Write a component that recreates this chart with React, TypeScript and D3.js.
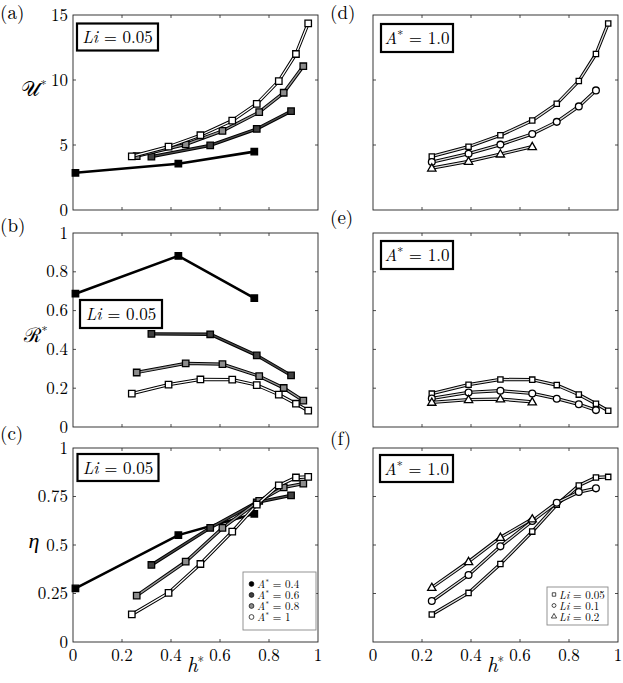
import React from 'react';
import * as d3 from 'd3';

// ---------- data ----------
const hA04 = [0.01, 0.43, 0.74];
const hA06 = [0.32, 0.56, 0.75, 0.89];
const hA08 = [0.26, 0.46, 0.61, 0.76, 0.86, 0.94];
const hA10 = [0.24, 0.39, 0.52, 0.65, 0.75, 0.84, 0.91, 0.96];

const uA04 = [2.86, 3.56, 4.49];
const uA06 = [4.1, 4.97, 6.24, 7.6];
const uA08 = [4.15, 5.05, 6.08, 7.53, 9.02, 11.06];
const uA10 = [4.12, 4.87, 5.75, 6.88, 8.17, 9.92, 12.0, 14.35];

const rA04 = [0.687, 0.882, 0.664];
const rA06 = [0.48, 0.478, 0.369, 0.266];
const rA08 = [0.281, 0.328, 0.324, 0.262, 0.201, 0.136];
const rA10 = [0.172, 0.218, 0.245, 0.244, 0.216, 0.167, 0.12, 0.084];

const eA04 = [0.276, 0.551, 0.661];
const eA06 = [0.397, 0.588, 0.72, 0.756];
const eA08 = [0.239, 0.414, 0.588, 0.728, 0.797, 0.816];
const eA10 = [0.142, 0.253, 0.402, 0.569, 0.708, 0.807, 0.848, 0.851];

const hLi005 = hA10;
const hLi01 = [0.24, 0.39, 0.52, 0.65, 0.75, 0.84, 0.91];
const hLi02 = [0.24, 0.39, 0.52, 0.65];

const uLi005 = uA10;
const uLi01 = [3.69, 4.33, 5.03, 5.85, 6.78, 7.97, 9.2];
const uLi02 = [3.22, 3.74, 4.3, 4.87];

const rLi005 = rA10;
const rLi01 = [0.147, 0.178, 0.187, 0.173, 0.146, 0.117, 0.087];
const rLi02 = [0.127, 0.141, 0.144, 0.129];

const eLi005 = eA10;
const eLi01 = [0.211, 0.345, 0.493, 0.624, 0.718, 0.773, 0.792];
const eLi02 = [0.281, 0.414, 0.539, 0.634];

const xTicks = [0, 0.2, 0.4, 0.6, 0.8, 1];
const uTicks = [0, 5, 10, 15];
const rTicks = [0, 0.2, 0.4, 0.6, 0.8, 1];
const eTicks = [0, 0.25, 0.5, 0.75, 1];

const aLabels = ['0.4', '0.6', '0.8', '1'];
const liLabels = ['0.05', '0.1', '0.2'];

// ---------- styling ----------
const FONT = "'Latin Modern Roman'";
const GREEK = "'Liberation Serif'";
const A_FILL = ['#000000', '#404040', '#8c8c8c', '#ffffff'];
const A_INNER = ['#000000', '#4a4a4a', '#9a9a9a', '#ffffff'];

type Shape = 'square' | 'circle' | 'triangle';
type Series = { h: number[]; v: number[]; fill: string; inner: string; shape: Shape; size: number; solid?: boolean };

const symFor = (s: Shape) => (s === 'square' ? d3.symbolSquare : s === 'circle' ? d3.symbolCircle : d3.symbolTriangle);

const T = (p: any) => <text {...p} style={{ fontFamily: FONT, ...(p.style || {}) }} />;

function Panel(props: {
  x0: number; x1: number; y0: number; y1: number;
  domain: [number, number]; yTicks: number[]; yFmt: (v: number) => string;
  showY: boolean; showX: boolean; series: Series[];
}) {
  const { x0, x1, y0, y1, domain, yTicks, yFmt, showY, showX, series } = props;
  const x = d3.scaleLinear().domain([0, 1]).range([x0, x1]);
  const y = d3.scaleLinear().domain(domain).range([y1, y0]);
  const line = d3.line<[number, number]>().x(d => x(d[0])).y(d => y(d[1]));
  const tl = 3;
  return (
    <g>
      <rect x={x0} y={y0} width={x1 - x0} height={y1 - y0} fill="none" stroke="#222" strokeWidth={0.9} />
      {xTicks.slice(1, -1).map(t => (
        <g key={'xt' + t}>
          <line x1={x(t)} x2={x(t)} y1={y1} y2={y1 - tl} stroke="#222" strokeWidth={0.8} />
          <line x1={x(t)} x2={x(t)} y1={y0} y2={y0 + tl} stroke="#222" strokeWidth={0.8} />
        </g>
      ))}
      {yTicks.slice(1, -1).map(t => (
        <g key={'yt' + t}>
          <line x1={x0} x2={x0 + tl} y1={y(t)} y2={y(t)} stroke="#222" strokeWidth={0.8} />
          <line x1={x1} x2={x1 - tl} y1={y(t)} y2={y(t)} stroke="#222" strokeWidth={0.8} />
        </g>
      ))}
      {showY && yTicks.map(t => (
        <T key={'yl' + t} x={x0 - 5} y={y(t) + 5.5} textAnchor="end" fontSize={17}>{yFmt(t)}</T>
      ))}
      {showX && xTicks.map(t => (
        <T key={'xl' + t} x={x(t)} y={y1 + 19} textAnchor="middle" fontSize={17}>{String(t)}</T>
      ))}
      {series.map((s, i) => {
        const pts = s.h.map((h, j) => [h, s.v[j]] as [number, number]);
        const d = line(pts) || '';
        return (
          <g key={'s' + i}>
            {s.solid ? (
              <path d={d} fill="none" stroke="#000" strokeWidth={2.6} />
            ) : (
              <>
                <path d={d} fill="none" stroke="#000" strokeWidth={3.3} />
                <path d={d} fill="none" stroke={s.inner} strokeWidth={1.3} />
              </>
            )}
            {pts.map((p, j) => (
              <path key={j} d={d3.symbol(symFor(s.shape), s.size)() || ''}
                transform={`translate(${x(p[0])},${y(p[1]) + (s.shape === 'triangle' ? 0.5 : 0)})`}
                fill={s.fill} stroke="#000" strokeWidth={1.3} />
            ))}
          </g>
        );
      })}
    </g>
  );
}

function LiBox({ x, y, w, h }: { x: number; y: number; w: number; h: number }) {
  return (
    <g>
      <rect x={x} y={y} width={w} height={h} fill="#fff" stroke="#000" strokeWidth={2.2} />
      <T x={x + w / 2} y={y + h / 2 + 6} textAnchor="middle" fontSize={17}>
        <tspan fontStyle="italic">Li</tspan> = 0.05
      </T>
    </g>
  );
}

function ABox({ x, y, w, h }: { x: number; y: number; w: number; h: number }) {
  return (
    <g>
      <rect x={x} y={y} width={w} height={h} fill="#fff" stroke="#000" strokeWidth={2.2} />
      <T x={x + w / 2} y={y + h / 2 + 6} textAnchor="middle" fontSize={17}>
        <tspan fontStyle="italic">A</tspan><tspan fontSize={12} baselineShift="45%">*</tspan> = 1.0
      </T>
    </g>
  );
}

const aSeries = (vals: number[][]): Series[] =>
  [hA04, hA06, hA08, hA10].map((h, i) => ({
    h, v: vals[i], fill: A_FILL[i], inner: A_INNER[i], shape: 'square' as Shape, size: 42, solid: i === 0,
  }));

const liSeries = (vals: number[][]): Series[] => {
  const shapes: Shape[] = ['square', 'circle', 'triangle'];
  const sizes = [28, 36, 30];
  return [hLi005, hLi01, hLi02].map((h, i) => ({
    h, v: vals[i], fill: '#fff', inner: '#e0e0e0', shape: shapes[i], size: sizes[i],
  }));
};

export default function App() {
  const fmtU = (v: number) => String(v);
  const fmtR = (v: number) => (v === 0 || v === 1 ? String(v) : v.toFixed(1));
  const fmtE = (v: number) => String(v);
  const L = [73, 318];
  const R = [373, 618];
  const rows = [[15, 210], [233, 427], [448, 642]];
  const labels: [string, number, number][] = [['(a)', 0, 18.5], ['(b)', 0, 232], ['(c)', 0, 440], ['(d)', 330, 18.5], ['(e)', 330, 224], ['(f)', 330, 445]];
  return (
    <div style={{ position: 'absolute', left: 0, top: 0 }}>
      <svg width={623} height={683} style={{ display: 'block', background: '#fff' }}>
        {labels.map(([t, xx, yy]) => (
          <T key={t} x={xx} y={yy} fontSize={19}>{t}</T>
        ))}

        <Panel x0={L[0]} x1={L[1]} y0={rows[0][0]} y1={rows[0][1]} domain={[0, 15]} yTicks={uTicks} yFmt={fmtU}
          showY showX={false} series={aSeries([uA04, uA06, uA08, uA10])} />
        <Panel x0={L[0]} x1={L[1]} y0={rows[1][0]} y1={rows[1][1]} domain={[0, 1]} yTicks={rTicks} yFmt={fmtR}
          showY showX={false} series={aSeries([rA04, rA06, rA08, rA10])} />
        <Panel x0={L[0]} x1={L[1]} y0={rows[2][0]} y1={rows[2][1]} domain={[0, 1]} yTicks={eTicks} yFmt={fmtE}
          showY showX series={aSeries([eA04, eA06, eA08, eA10])} />

        <Panel x0={R[0]} x1={R[1]} y0={rows[0][0]} y1={rows[0][1]} domain={[0, 15]} yTicks={uTicks} yFmt={fmtU}
          showY={false} showX={false} series={liSeries([uLi005, uLi01, uLi02])} />
        <Panel x0={R[0]} x1={R[1]} y0={rows[1][0]} y1={rows[1][1]} domain={[0, 1]} yTicks={rTicks} yFmt={fmtR}
          showY={false} showX={false} series={liSeries([rLi005, rLi01, rLi02])} />
        <Panel x0={R[0]} x1={R[1]} y0={rows[2][0]} y1={rows[2][1]} domain={[0, 1]} yTicks={eTicks} yFmt={fmtE}
          showY={false} showX series={liSeries([eLi005, eLi01, eLi02])} />

        {/* y labels */}
        <T x={34} y={96} textAnchor="middle" fontSize={21}>𝒰<tspan fontSize={12} baselineShift="60%">*</tspan></T>
        <T x={36} y={342} textAnchor="middle" fontSize={20}>ℛ<tspan fontSize={12} baselineShift="60%">*</tspan></T>
        <T x={34} y={548} textAnchor="middle" fontSize={22} fontStyle="italic" style={{ fontFamily: GREEK }}>η</T>

        {/* x labels */}
        {[195.5, 495.5].map(cx => (
          <T key={cx} x={cx} y={672} textAnchor="middle" fontSize={21}>
            <tspan fontStyle="italic">h</tspan><tspan fontSize={13} baselineShift="50%">*</tspan>
          </T>
        ))}

        {/* annotation boxes */}
        <LiBox x={77} y={23.5} w={81} h={27} />
        <LiBox x={80} y={300} w={82} h={28} />
        <LiBox x={77.5} y={454} w={81} h={27} />
        <ABox x={381} y={24} w={72} h={28} />
        <ABox x={381} y={241} w={72} h={28} />
        <ABox x={380} y={455} w={73} h={27} />

        {/* legend A* */}
        <g>
          <rect x={243} y={572} width={73} height={58} fill="#fff" stroke="#888" strokeWidth={0.9} />
          {aLabels.map((lab, i) => (
            <g key={lab}>
              <circle cx={251.5} cy={584 + i * 11} r={2.4} fill={A_FILL[i]} stroke="#000" strokeWidth={0.7} />
              <T x={257} y={588 + i * 11} fontSize={11}>
                <tspan fontStyle="italic">A</tspan><tspan fontSize={8} baselineShift="40%">*</tspan> = {lab}
              </T>
            </g>
          ))}
        </g>

        {/* legend Li */}
        <g>
          <rect x={547} y={587} width={61} height={38} fill="#fff" stroke="#888" strokeWidth={0.9} />
          {liLabels.map((lab, i) => (
            <g key={lab}>
              <path d={d3.symbol(symFor((['square', 'circle', 'triangle'] as Shape[])[i]), 12)() || ''}
                transform={`translate(${554},${594.5 + i * 11})`} fill="#fff" stroke="#000" strokeWidth={0.7} />
              <T x={559} y={598.5 + i * 11} fontSize={11}>
                <tspan fontStyle="italic">Li</tspan> = {lab}
              </T>
            </g>
          ))}
        </g>
      </svg>
    </div>
  );
}
